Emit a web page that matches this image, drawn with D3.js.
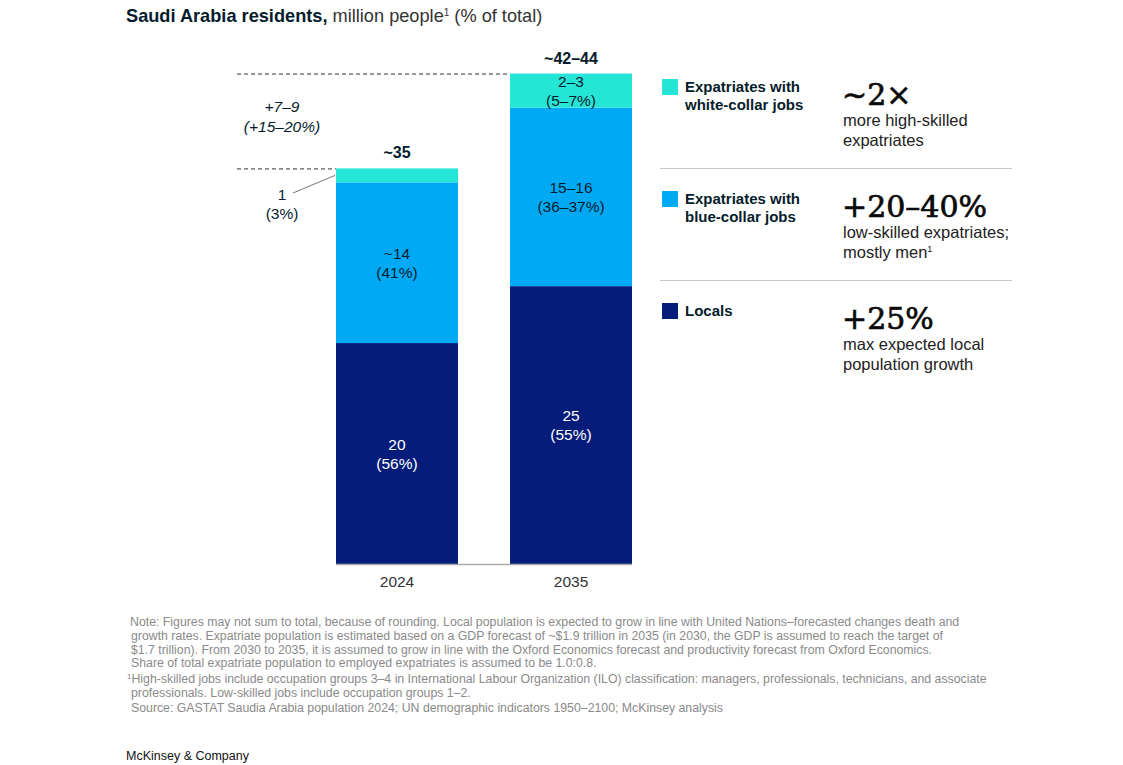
<!DOCTYPE html>
<html>
<head>
<meta charset="utf-8">
<script src="https://cdn.jsdelivr.net/npm/d3@7/dist/d3.min.js"></script>
<style>
  html, body { margin: 0; padding: 0; background: #fff; }
  svg { display: block; }
</style>
</head>
<body>
<svg id="chart" width="1123" height="765" font-family="Liberation Sans, Arial, sans-serif"></svg>
<script>
// ---------- DATA ----------
const years = ["2024", "2035"];
const locals = [19.8, 24.9];
const blueCollar = [14.4, 16.0];
const whiteCollar = [1.25, 3.05];

const localsLabels = [["20", "(56%)"], ["25", "(55%)"]];
const blueLabels = [["~14", "(41%)"], ["15–16", "(36–37%)"]];
const whiteLabels = [null, ["2–3", "(5–7%)"]];
const totalLabels = ["~35", "~42–44"];

const seriesNames = ["Expatriates with white-collar jobs", "Expatriates with blue-collar jobs", "Locals"];
const legendLines = [["Expatriates with", "white-collar jobs"], ["Expatriates with", "blue-collar jobs"], ["Locals"]];
const bigNumbers = ["~2×", "+20–40%", "+25%"];
const bigDescriptions = [["more high-skilled", "expatriates"], ["low-skilled expatriates;", "mostly men¹"], ["max expected local", "population growth"]];

const footnotes = [
  "Note: Figures may not sum to total, because of rounding. Local population is expected to grow in line with United Nations–forecasted changes death and",
  " growth rates. Expatriate population is estimated based on a GDP forecast of ~$1.9 trillion in 2035 (in 2030, the GDP is assumed to reach the target of",
  " $1.7 trillion). From 2030 to 2035, it is assumed to grow in line with the Oxford Economics forecast and productivity forecast from Oxford Economics.",
  " Share of total expatriate population to employed expatriates is assumed to be 1.0:0.8.",
  "¹High-skilled jobs include occupation groups 3–4 in International Labour Organization (ILO) classification: managers, professionals, technicians, and associate",
  " professionals. Low-skilled jobs include occupation groups 1–2.",
  " Source: GASTAT Saudia Arabia population 2024; UN demographic indicators 1950–2100; McKinsey analysis"
];

// ---------- SETUP ----------
const colors = { white: "#25E6D6", blue: "#00A9F4", locals: "#051C7A" };
const svg = d3.select("#chart");

const x = d3.scaleBand().domain(years).range([336, 632]).paddingInner(0.2989).paddingOuter(0);
const y = d3.scaleLinear().domain([0, 44]).range([564, 73]);

// Title
const title = svg.append("text").attr("x", 126).attr("y", 22).attr("font-size", 18.2).attr("fill", "#051C2C");
title.append("tspan").attr("font-weight", "bold").text("Saudi Arabia residents,");
title.append("tspan").attr("fill", "#333").text(" million people");
title.append("tspan").attr("fill", "#333").attr("font-size", 10).attr("dy", -6).text("1");
title.append("tspan").attr("fill", "#333").attr("dy", 6).text(" (% of total)");

// Stack
const rows = years.map((yr, i) => ({ year: yr, locals: locals[i], blue: blueCollar[i], white: whiteCollar[i] }));
const stack = d3.stack().keys(["locals", "blue", "white"]);
const stacked = stack(rows);

const labelSets = { locals: localsLabels, blue: blueLabels, white: whiteLabels };
const labelColors = { locals: "#ffffff", blue: "#051C2C", white: "#051C2C" };

stacked.forEach(layer => {
  const key = layer.key;
  svg.append("g").selectAll("rect").data(layer).join("rect")
    .attr("x", d => x(d.data.year))
    .attr("width", x.bandwidth())
    .attr("y", d => y(d[1]))
    .attr("height", d => y(d[0]) - y(d[1]))
    .attr("fill", colors[key]);

  layer.forEach((d, i) => {
    const lab = labelSets[key][i];
    if (!lab) return;
    const cy = (y(d[0]) + y(d[1])) / 2;
    const t = svg.append("text")
      .attr("x", x(d.data.year) + x.bandwidth() / 2)
      .attr("y", cy - 4)
      .attr("text-anchor", "middle")
      .attr("font-size", 15.5)
      .attr("fill", labelColors[key]);
    t.append("tspan").attr("x", x(d.data.year) + x.bandwidth() / 2).text(lab[0]);
    t.append("tspan").attr("x", x(d.data.year) + x.bandwidth() / 2).attr("dy", 19).text(lab[1]);
  });
});

// Totals
const totals = rows.map(r => r.locals + r.blue + r.white);
svg.append("g").selectAll("text").data(years).join("text")
  .attr("x", d => x(d) + x.bandwidth() / 2)
  .attr("y", (d, i) => y(totals[i]) - 10)
  .attr("text-anchor", "middle")
  .attr("font-size", 16)
  .attr("font-weight", "bold")
  .attr("fill", "#051C2C")
  .text((d, i) => totalLabels[i]);

// Baseline
svg.append("line")
  .attr("x1", x(years[0])).attr("x2", x(years[1]) + x.bandwidth())
  .attr("y1", y(0) + 0.5).attr("y2", y(0) + 0.5)
  .attr("stroke", "#aaaaaa").attr("stroke-width", 1.5);

// x axis labels
const xAxis = d3.axisBottom(x).tickSize(0).tickPadding(12);
const gx = svg.append("g").attr("transform", `translate(0,${y(0)})`).call(xAxis);
gx.select(".domain").remove();
gx.attr("font-family", null).attr("font-size", null);
gx.selectAll("text").attr("font-size", 15.5).attr("fill", "#333");

// Dashed reference lines
svg.append("line")
  .attr("x1", 237).attr("x2", x(years[1]))
  .attr("y1", y(totals[1]) + 0.5).attr("y2", y(totals[1]) + 0.5)
  .attr("stroke", "#333").attr("stroke-width", 1).attr("stroke-dasharray", "4,3");
svg.append("line")
  .attr("x1", 237).attr("x2", x(years[0]))
  .attr("y1", y(totals[0]) + 0.5).attr("y2", y(totals[0]) + 0.5)
  .attr("stroke", "#333").attr("stroke-width", 1).attr("stroke-dasharray", "4,3");

// Growth annotation
const ann = svg.append("text").attr("text-anchor", "middle").attr("font-size", 15.5).attr("font-style", "italic").attr("fill", "#051C2C");
ann.append("tspan").attr("x", 282).attr("y", 112).text("+7–9");
ann.append("tspan").attr("x", 282).attr("y", 132).text("(+15–20%)");

// White-collar 2024 callout
const wc0 = stacked[2][0];
const c1 = svg.append("text").attr("text-anchor", "middle").attr("font-size", 15.5).attr("fill", "#051C2C");
c1.append("tspan").attr("x", 282).attr("y", 200).text("1");
c1.append("tspan").attr("x", 282).attr("y", 219).text("(3%)");
svg.append("line")
  .attr("x1", 293).attr("y1", 193)
  .attr("x2", x(years[0]) - 1).attr("y2", (y(wc0[0]) + y(wc0[1])) / 2)
  .attr("stroke", "#777").attr("stroke-width", 1);

// Legend
const legendColors = [colors.white, colors.blue, colors.locals];
const legendTops = [79, 191, 303];
legendTops.forEach((top, i) => {
  svg.append("rect").attr("x", 662).attr("y", top).attr("width", 16).attr("height", 16).attr("fill", legendColors[i]);
  const lt = svg.append("text").attr("font-size", 15).attr("font-weight", "bold").attr("fill", "#051C2C");
  legendLines[i].forEach((ln, j) => {
    lt.append("tspan").attr("x", 685).attr("y", top + 13 + j * 18).text(ln);
  });
  svg.append("text").attr("x", 842).attr("y", top + 26)
    .attr("font-family", "DejaVu Serif, serif").attr("font-size", 30).attr("fill", "#0a0a0a")
    .attr("stroke", "#0a0a0a").attr("stroke-width", 0.7)
    .text(bigNumbers[i]);
  const dt = svg.append("text").attr("font-size", 16.5).attr("fill", "#222");
  bigDescriptions[i].forEach((ln, j) => {
    const sup = ln.endsWith("¹");
    dt.append("tspan").attr("x", 843).attr("y", top + 47 + j * 20).text(sup ? ln.slice(0, -1) : ln);
    if (sup) dt.append("tspan").attr("font-size", 9).attr("dy", -6).text("1");
  });
});
[168, 280].forEach(yy => {
  svg.append("line").attr("x1", 660).attr("x2", 1012).attr("y1", yy + 0.5).attr("y2", yy + 0.5)
    .attr("stroke", "#c8c8c8").attr("stroke-width", 1.2);
});

// Footnotes
const fnY = [626, 640, 654, 667, 683, 697, 712];
const fn = svg.append("g").attr("font-size", 12.3).attr("fill", "#8a8a8a");
footnotes.forEach((ln, i) => {
  const t = fn.append("text").attr("y", fnY[i]);
  if (ln.startsWith("¹")) {
    t.attr("x", 127);
    t.append("tspan").attr("font-size", 8).attr("dy", -4).text("1");
    t.append("tspan").attr("dy", 4).text(ln.slice(1));
  } else {
    t.attr("x", ln.startsWith(" ") ? 131 : 130).text(ln.trim());
  }
});

// Brand
svg.append("text").attr("x", 126).attr("y", 760).attr("font-size", 12.5).attr("fill", "#111").text("McKinsey & Company");
</script>
</body>
</html>
